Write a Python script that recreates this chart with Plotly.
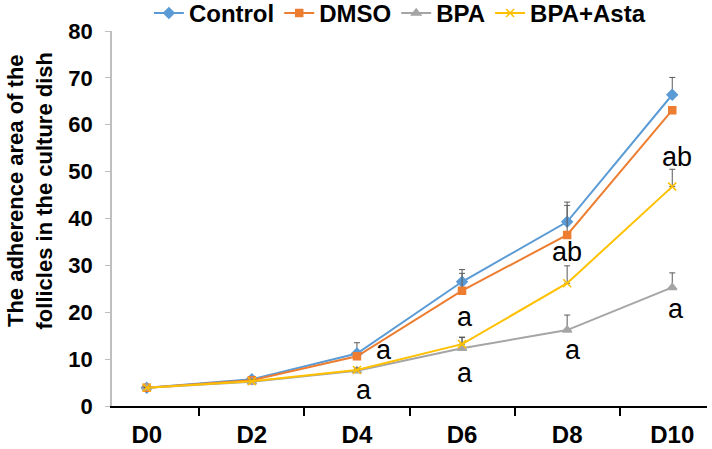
import plotly.graph_objects as go

days = ["D0", "D2", "D4", "D6", "D8", "D10"]

control = [3.9, 5.7, 11.2, 26.5, 39.3, 66.4]
dmso = [3.9, 5.5, 10.6, 24.6, 36.5, 63.1]
bpa = [3.9, 5.2, 7.5, 12.3, 16.2, 25.3]
bpa_asta = [3.9, 5.3, 7.7, 13.2, 26.2, 46.8]

control_err = [0.2, 0.5, 2.3, 2.6, 4.2, 3.7]
dmso_err = [0.2, 0.6, 0.4, 3.7, 6.3, 0.0]
bpa_err = [0.2, 0.4, 0.4, 2.3, 3.2, 3.1]
bpa_asta_err = [0.2, 0.4, 0.4, 1.5, 3.7, 3.7]

sig_days = ["D4", "D4", "D6", "D6", "D8", "D8", "D10", "D10"]
sig_vals = [11.9, 3.4, 18.9, 7.0, 32.9, 11.9, 53.2, 20.6]
sig_text = ["a", "a", "a", "a", "ab", "a", "ab", "a"]
sig_shift = [27, 7, 3, 3, 0, 6, 5, 4]

series = [
    ("Control", control, control_err, "#5B9BD5", "diamond", 8),
    ("DMSO", dmso, dmso_err, "#ED7D31", "square", 7),
    ("BPA", bpa, bpa_err, "#A5A5A5", "triangle-up", 8),
    ("BPA+Asta", bpa_asta, bpa_asta_err, "#FFC000", "x-thin-open", 8),
]

FONT = "Liberation Sans, Arial, sans-serif"

fig = go.Figure()
for name, vals, err, color, sym, ms in series:
    fig.add_trace(go.Scatter(
        x=days, y=vals, name=name, mode="lines+markers",
        line=dict(color=color, width=2),
        marker=dict(symbol=sym, size=ms, color=color, line=dict(color=color, width=1.5)),
        error_y=dict(type="data", array=err, arrayminus=[0] * len(err), symmetric=False,
                     color="#595959", thickness=1, width=3),
    ))

for d, v, t, s in zip(sig_days, sig_vals, sig_text, sig_shift):
    fig.add_annotation(x=d, y=v, text=t, showarrow=False, xshift=s,
                       font=dict(family=FONT, size=27, color="black"))

fig.add_annotation(
    xref="paper", yref="paper", x=-0.137, y=0.576, xanchor="center", yanchor="middle",
    textangle=-90, showarrow=False,
    text="The adherence area of the<br>follicles in the culture dish",
    font=dict(family=FONT, size=22, color="black", weight="bold"),
)

fig.update_layout(
    width=712, height=449,
    margin=dict(l=112, r=5, t=31, b=43, autoexpand=False),
    plot_bgcolor="white", paper_bgcolor="white",
    showlegend=True,
    legend=dict(orientation="h", x=0.062, xanchor="left", y=1.047, yanchor="middle",
                font=dict(family=FONT, size=24, color="black", weight="bold"),
                itemwidth=30, tracegroupgap=0),
    xaxis=dict(
        type="category", showline=True, linecolor="black", linewidth=1.5, automargin=False,
        ticks="outside", tickson="boundaries", ticklen=8, tickcolor="black", tickwidth=1.5,
        showgrid=False, zeroline=False, ticklabelstandoff=6,
        tickfont=dict(family=FONT, size=24, color="black", weight="bold"),
    ),
    yaxis=dict(
        range=[0, 80], dtick=10, showline=True, linecolor="#BFBFBF", linewidth=1.5, automargin=False,
        ticks="outside", ticklen=5, tickcolor="#BFBFBF", showgrid=False, zeroline=False,
        ticklabelstandoff=8,
        tickfont=dict(family=FONT, size=22, color="black", weight="bold"),
    ),
)

fig.write_html("out.html", config={"displayModeBar": False},
               post_script="document.body.style.margin='0';document.body.style.overflow='hidden';")
